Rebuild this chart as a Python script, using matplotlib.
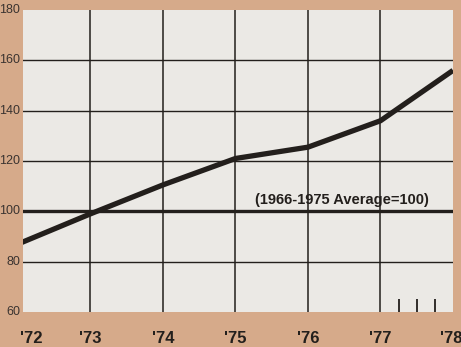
import matplotlib

matplotlib.use("Agg")
import matplotlib.pyplot as plt


# index values, 1966-1975 average = 100
YEARS = [72.0, 73.0, 74.0, 75.0, 76.0, 77.0, 77.25, 78.0]
INDEX = [87.0, 99.0, 110.5, 121.0, 125.5, 136.0, 141.0, 156.0]

X_TICKS = [72, 73, 74, 75, 76, 77, 78]
X_LABELS = ["'72", "'73", "'74", "'75", "'76", "'77", "'78"]
Y_TICKS = [60, 80, 100, 120, 140, 160, 180]
QUARTERS = [77.25, 77.5, 77.75]
BASE = 100
BASE_LABEL = "(1966-1975 Average=100)"

TAN = "#d6aa8a"
PAPER = "#ebe9e5"
INK = "#231f1c"
FAMILY = ["Liberation Sans", "DejaVu Sans"]


def main():
    fig = plt.figure(figsize=(4.61, 3.47), dpi=100, facecolor=TAN)
    ax = fig.add_axes([23 / 461.0, 35 / 347.0, 430 / 461.0, 302 / 347.0])
    ax.set_facecolor(PAPER)

    ax.set_xlim(72.07, 78.0)
    ax.set_ylim(60, 180)

    for spine in ax.spines.values():
        spine.set_visible(False)

    # plain black grid
    for x in X_TICKS[1:-1]:
        ax.axvline(x, color=INK, linewidth=1.1, zorder=1)
    for y in Y_TICKS[1:-1]:
        ax.axhline(y, color=INK, linewidth=1.0, zorder=1)
    ax.axhline(BASE, color=INK, linewidth=2.4, zorder=2)

    # quarter marks in the last year
    for q in QUARTERS:
        ax.plot([q, q], [60, 65], color=INK, linewidth=1.3, zorder=2,
                solid_capstyle="butt")

    ax.plot(YEARS, INDEX, color=INK, linewidth=3.8, zorder=3,
            solid_capstyle="butt", solid_joinstyle="round")

    ax.text(76.47, BASE + 1.6, BASE_LABEL, ha="center", va="bottom",
            fontsize=10.5, fontweight="bold", color=INK, family=FAMILY)

    ax.set_xticks([])
    ax.set_yticks([])

    # year labels under the axis
    for x, lab in zip(X_TICKS, X_LABELS):
        xpos = x
        if x == 72:
            xpos = 72.18
        if x == 78:
            xpos = 77.97
        ax.text(xpos, 49.5, lab, ha="center", va="center", fontsize=12,
                fontweight="bold", color=INK, family=FAMILY, clip_on=False)

    for y in Y_TICKS:
        ax.text(72.07 - 0.04, y, str(y), ha="right", va="center",
                fontsize=9, color="#3a3330", family=FAMILY, clip_on=False)

    fig.savefig("out.png", dpi=100, facecolor=TAN)
    plt.close(fig)


if __name__ == "__main__":
    main()
